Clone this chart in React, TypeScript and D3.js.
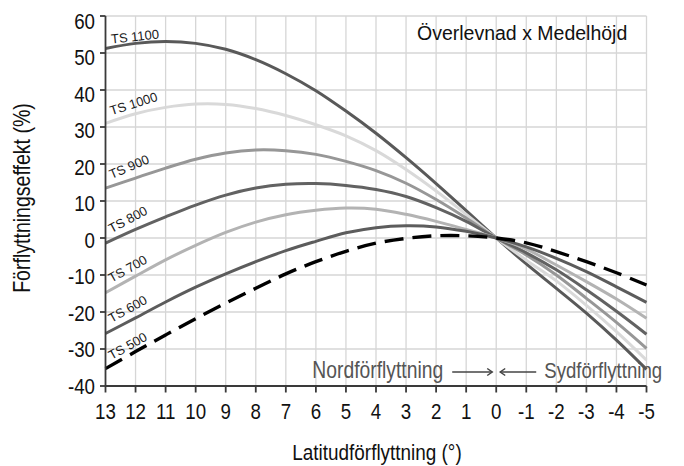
import React from "react";
import * as d3 from "d3";

// Latitude transfer (degrees), north positive, south negative
const latitudes = [13, 12, 11, 10, 9, 8, 7, 6, 5, 4, 3, 2, 1, 0, -1, -2, -3, -4, -5];

// Transfer effect (%) per temperature sum class
const ts1100 = [51.2, 52.6, 53.1, 52.6, 51.0, 48.2, 44.4, 39.8, 34.3, 28.3, 21.7, 14.7, 7.4, 0, -7.0, -13.6, -20.3, -27.6, -35.5];
const ts1000 = [31.0, 33.6, 35.3, 36.2, 36.1, 35.0, 33.1, 30.6, 27.6, 23.6, 18.5, 12.7, 6.4, 0, -6.0, -11.6, -18.2, -25.3, -33.0];
const ts900 = [13.5, 16.2, 18.9, 21.3, 23.0, 23.8, 23.6, 22.6, 20.7, 18.2, 14.8, 10.4, 5.4, 0, -4.6, -10.0, -16.3, -22.8, -29.8];
const ts800 = [-1.4, 2.3, 5.7, 8.9, 11.6, 13.5, 14.5, 14.7, 14.2, 13.1, 11.2, 8.2, 4.5, 0, -4.0, -8.6, -14.0, -19.8, -26.0];
const ts700 = [-14.8, -10.3, -5.9, -2.0, 1.5, 4.3, 6.3, 7.5, 8.1, 7.8, 6.4, 4.5, 2.3, 0, -3.0, -7.3, -11.8, -16.5, -21.7];
const ts600 = [-25.8, -21.6, -17.3, -13.3, -9.7, -6.4, -3.4, -0.9, 1.4, 2.8, 3.3, 3.0, 1.8, 0, -2.4, -5.5, -9.1, -13.2, -17.4];
const ts500 = [-35.3, -30.7, -26.2, -21.8, -17.6, -13.6, -9.7, -6.4, -3.6, -1.4, -0.1, 0.6, 0.6, 0, -1.3, -3.7, -6.4, -9.4, -12.7];

const seriesNames = ["TS 1100", "TS 1000", "TS 900", "TS 800", "TS 700", "TS 600", "TS 500"];
const seriesValues = [ts1100, ts1000, ts900, ts800, ts700, ts600, ts500];

const xTicks = [13, 12, 11, 10, 9, 8, 7, 6, 5, 4, 3, 2, 1, 0, -1, -2, -3, -4, -5];
const yTicks = [-40, -30, -20, -10, 0, 10, 20, 30, 40, 50, 60];

const title = "Överlevnad x Medelhöjd";
const xTitle = "Latitudförflyttning (°)";
const yTitle = "Förflyttningseffekt (%)";
const northText = "Nordförflyttning";
const southText = "Sydförflyttning";

// Styling per series (same order as seriesNames)
const seriesStyle = [
  { color: "#595959", width: 3, dash: "", angle: -6, dy: -5 },
  { color: "#d9d9d9", width: 3, dash: "", angle: -17.5, dy: -8 },
  { color: "#979797", width: 3, dash: "", angle: -23, dy: -9 },
  { color: "#626262", width: 3, dash: "", angle: -28, dy: -10 },
  { color: "#b3b3b3", width: 3, dash: "", angle: -29, dy: -10 },
  { color: "#5c5c5c", width: 3, dash: "", angle: -29, dy: -10.5 },
  { color: "#000000", width: 3.4, dash: "19 9", angle: -29, dy: -8.5 },
];

const W = 684;
const H = 466;
const FONT = "'Liberation Sans', Arial, Helvetica, sans-serif";

export default function App() {
  const x = d3.scaleLinear().domain([13, -5]).range([105.5, 646.5]);
  const y = d3.scaleLinear().domain([-40, 60]).range([386, 16]);
  // tick labels sit slightly lower toward the top of the axis
  const yLabel = d3.scaleLinear().domain([-40, 60]).range([386, 21]);

  const line = d3
    .line<[number, number]>()
    .x((d) => x(d[0]))
    .y((d) => y(d[1]))
    .curve(d3.curveCatmullRom.alpha(0.5));

  const x0 = x(0);
  const arrowY = 372;
  const textBase = 377.5;

  return (
    <svg
      width={W}
      height={H}
      style={{ position: "absolute", left: 0, top: 0, background: "#fff" }}
      fontFamily={FONT}
    >
      {/* grid */}
      <g stroke="#d6d6d6" strokeWidth={1.3}>
        {xTicks
          .filter((t) => t !== 13)
          .map((t) => (
            <line key={"gx" + t} x1={x(t)} x2={x(t)} y1={y(60)} y2={y(-40)} />
          ))}
        {yTicks
          .filter((t) => t !== -40)
          .map((t) => (
            <line key={"gy" + t} x1={x(13)} x2={x(-5)} y1={y(t)} y2={y(t)} />
          ))}
      </g>

      {/* series lines */}
      {seriesValues.map((vals, i) => {
        const pts = latitudes.map((lat, j) => [lat, vals[j]] as [number, number]);
        const st = seriesStyle[i];
        return (
          <path
            key={seriesNames[i]}
            d={line(pts) || ""}
            fill="none"
            stroke={st.color}
            strokeWidth={st.width}
            strokeDasharray={st.dash || undefined}
            strokeLinecap="butt"
          />
        );
      })}

      {/* series labels */}
      {seriesValues.map((vals, i) => {
        const st = seriesStyle[i];
        const lx = x(latitudes[0]) + 6;
        const ly = y(vals[0]) + st.dy;
        return (
          <text
            key={"lab" + i}
            transform={`translate(${lx},${ly}) rotate(${st.angle})`}
            fontSize={13}
            fill="#1a1a1a"
          >
            {seriesNames[i]}
          </text>
        );
      })}

      {/* axes */}
      <g stroke="#3a3a3a" strokeWidth={1.8}>
        <line x1={x(13)} x2={x(13)} y1={y(60)} y2={y(-40)} />
        <line x1={x(13)} x2={x(-5)} y1={y(-40)} y2={y(-40)} />
        {yTicks.map((t) => (
          <line key={"ty" + t} x1={x(13) - 5.5} x2={x(13)} y1={y(t)} y2={y(t)} />
        ))}
        {xTicks.map((t) => (
          <line key={"tx" + t} x1={x(t)} x2={x(t)} y1={y(-40)} y2={y(-40) + 6.5} />
        ))}
      </g>

      {/* tick labels */}
      {yTicks.map((t) => (
        <text
          key={"yl" + t}
          transform={`translate(95,${yLabel(t)}) scale(0.85,1)`}
          textAnchor="end"
          dominantBaseline="central"
          fontSize={22}
          fill="#111"
        >
          {t}
        </text>
      ))}
      {xTicks.map((t) => (
        <text
          key={"xl" + t}
          transform={`translate(${x(t)},419) scale(0.85,1)`}
          textAnchor="middle"
          fontSize={22}
          fill="#111"
        >
          {t}
        </text>
      ))}

      {/* axis titles */}
      <text
        transform={`translate(${(x(13) + x(-5)) / 2 + 1},460) scale(0.86,1)`}
        textAnchor="middle"
        fontSize={22}
        fill="#111"
      >
        {xTitle}
      </text>
      <text
        transform={`translate(30,198) rotate(-90) scale(0.85,1)`}
        textAnchor="middle"
        fontSize={23}
        fill="#111"
      >
        {yTitle}
      </text>

      {/* chart title */}
      <text transform={`translate(417,39.5) scale(0.975,1)`} fontSize={20} fill="#111">
        {title}
      </text>

      {/* direction annotations */}
      <text
        transform={`translate(${x0 - 53},${textBase}) scale(0.84,1)`}
        textAnchor="end"
        fontSize={23}
        fill="#555"
      >
        {northText}
      </text>
      <text
        transform={`translate(${x0 + 48},${textBase}) scale(0.81,1)`}
        fontSize={23}
        fill="#555"
      >
        {southText}
      </text>
      <g stroke="#444" strokeWidth={1.5} fill="none">
        <line x1={x0 - 44} x2={x0 - 4} y1={arrowY} y2={arrowY} />
        <polyline points={`${x0 - 9},${arrowY - 3.5} ${x0 - 4},${arrowY} ${x0 - 9},${arrowY + 3.5}`} />
        <line x1={x0 + 40} x2={x0 + 4} y1={arrowY} y2={arrowY} />
        <polyline points={`${x0 + 9},${arrowY - 3.5} ${x0 + 4},${arrowY} ${x0 + 9},${arrowY + 3.5}`} />
      </g>
    </svg>
  );
}
